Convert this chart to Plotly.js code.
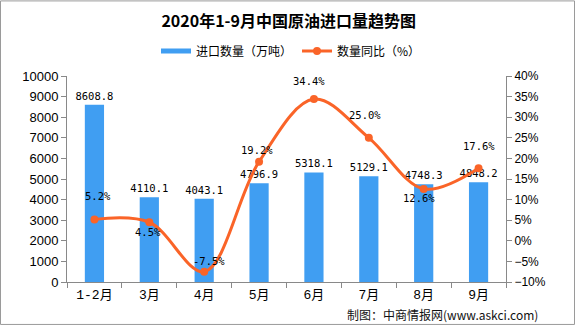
<!DOCTYPE html>
<html><head><meta charset="utf-8">
<script src="https://cdn.plot.ly/plotly-3.0.1.min.js"></script>
<style>html,body{margin:0;padding:0;background:#fff}#chart{width:576px;height:326px}</style>
</head><body><div id="chart"></div>
<script>
const categories = ['1-2月','3月','4月','5月','6月','7月','8月','9月'];
const importVolume = [8608.8, 4110.1, 4043.1, 4796.9, 5318.1, 5129.1, 4748.3, 4848.2];
const yoyGrowth = [5.2, 4.5, -7.5, 19.2, 34.4, 25.0, 12.6, 17.6];
const seriesNames = ['进口数量（万吨）', '数量同比（%）'];
const chartTitle = '2020年1-9月中国原油进口量趋势图';
const sourceText = '制图：中商情报网(www.askci.com)';

const BLUE = '#409EF2', ORANGE = '#FA6428', AXIS = '#898989';
const NUMFONT = 'DejaVu Sans Mono, Noto Sans CJK SC';
const CJK = 'Noto Sans CJK SC, sans-serif';
// label offsets in px for the growth labels (style only)
const labelShift = [[4,23],[-1,-10],[5,11],[-2,12],[-5,18],[-4,23],[-5,-9],[0,22]];

const traces = [
  {x:[null], y:[null], type:'scatter', mode:'lines', name:seriesNames[0],
   line:{color:BLUE, width:5}, hoverinfo:'skip'},
  {x:categories, y:importVolume, type:'bar', name:seriesNames[0], showlegend:false,
   marker:{color:BLUE}, text:importVolume.map(v=>v.toFixed(1)), textposition:'outside', constraintext:'none',
   textfont:{family:NUMFONT, size:10.5, color:'#000'}, cliponaxis:false},
  {x:categories, y:yoyGrowth, type:'scatter', mode:'lines+markers', name:seriesNames[1], yaxis:'y2',
   line:{color:ORANGE, width:3, shape:'spline', smoothing:1}, marker:{color:ORANGE, size:8}, cliponaxis:false}
];

const annotations = yoyGrowth.map((v,i)=>({
  x:categories[i], y:v, xref:'x', yref:'y2', text:v.toFixed(1)+'%', showarrow:false,
  xshift:labelShift[i][0], yshift:labelShift[i][1],
  font:{family:NUMFONT, size:10.5, color:'#000'}
}));
annotations.push({xref:'paper', yref:'paper', x:(540-67)/439, y:(282-315)/206.3, xanchor:'right', yanchor:'middle',
  text:sourceText, showarrow:false, font:{family:CJK, size:12, color:'#111'}});

const layout = {
  width:576, height:326,
  margin:{l:67, r:70, t:76, b:44},
  paper_bgcolor:'#fff', plot_bgcolor:'#fff',
  title:{text:'<b>'+chartTitle+'</b>', font:{family:CJK, size:16, color:'#000'},
    x:288.7/576, xref:'container', xanchor:'center', y:1-21/326, yref:'container', yanchor:'middle'},
  showlegend:true,
  legend:{orientation:'h', x:291/576, xref:'container', xanchor:'center', y:1-51/326, yref:'container', yanchor:'middle',
    font:{family:CJK, size:12, color:'#000'}, bgcolor:'rgba(0,0,0,0)'},
  bargap:0.65,
  xaxis:{type:'category', showline:true, linecolor:AXIS, linewidth:1, ticks:'outside', tickson:'boundaries',
    ticklen:5, tickcolor:AXIS, showgrid:false, zeroline:false,
    tickfont:{family:'Liberation Mono, Noto Sans CJK SC', size:13, color:'#000'}},
  yaxis:{range:[0,10000], dtick:1000, showline:true, linecolor:AXIS, ticks:'outside', ticklen:5, tickcolor:AXIS,
    showgrid:false, zeroline:false, tickformat:'d', tickfont:{family:'Liberation Sans', size:13, color:'#000'}},
  yaxis2:{range:[-10,40], dtick:5, overlaying:'y', side:'right', showline:true, linecolor:AXIS, ticks:'outside',
    ticklen:5, tickcolor:AXIS, showgrid:false, zeroline:false, ticksuffix:'%',
    tickfont:{family:'Liberation Sans', size:12, color:'#000'}},
  annotations:annotations,
  shapes:[{type:'rect', xref:'paper', yref:'paper', x0:(0.5-67)/439, x1:(574.5-67)/439,
    y0:(282-324.5)/206.3, y1:(282-0.5)/206.3, line:{color:'#9a9a9a', width:1}, fillcolor:'rgba(0,0,0,0)', layer:'below'}]
};
Plotly.newPlot('chart', traces, layout, {displayModeBar:false, staticPlot:true});
</script></body></html>
